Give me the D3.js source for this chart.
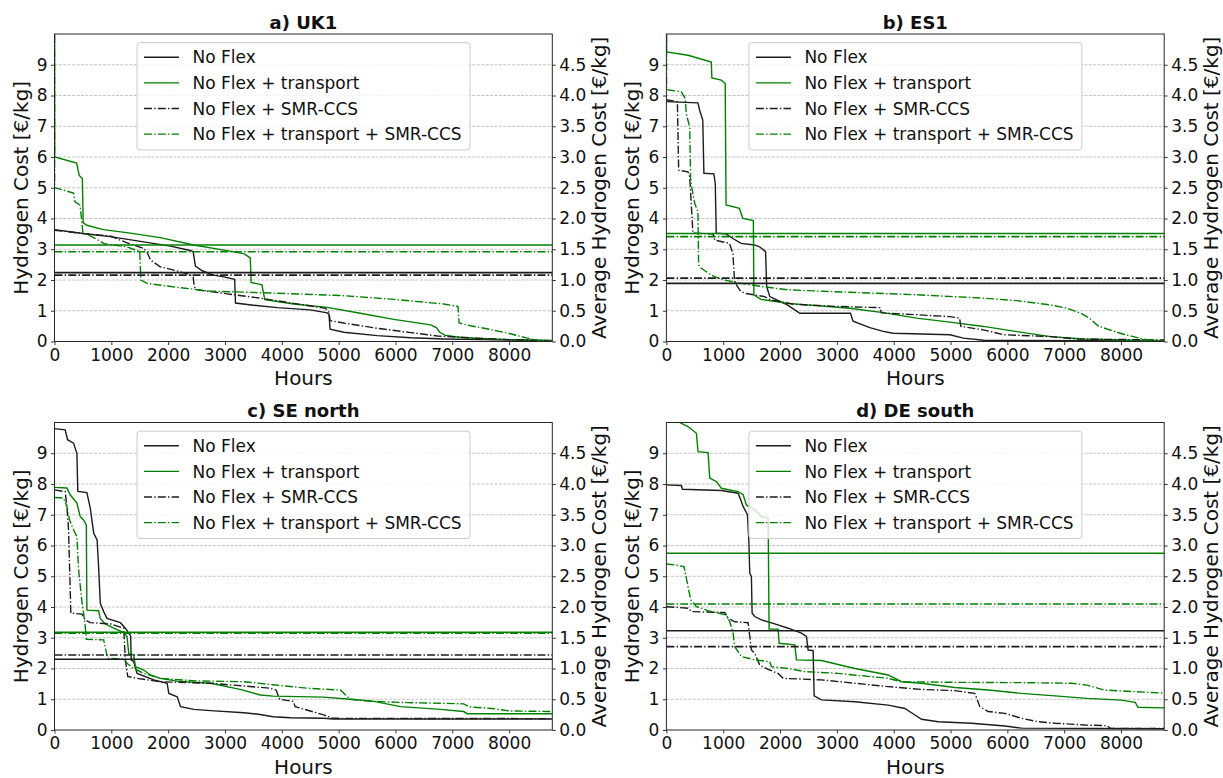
<!DOCTYPE html>
<html>
<head>
<meta charset="utf-8">
<script src="https://cdn.jsdelivr.net/npm/d3@7"></script>
<style>
  html, body { margin: 0; padding: 0; background: #fff; }
  svg { display: block; font-family: "DejaVu Sans", sans-serif; }
</style>
</head>
<body>
<svg id="chart" width="1223" height="778"></svg>
<script>
// Sorted hourly hydrogen cost (duration curves), [hour, €/kg] breakpoints.
const ukNoFlex = [[0,3.64],[500,3.51],[980,3.41],[1570,3.24],[2040,3.10],[2390,2.96],[2440,2.92],[2480,2.45],[2600,2.30],[2800,2.16],[2980,2.10],[3170,2.02],[3185,1.25],[3500,1.18],[3920,1.10],[4500,1.03],[4800,0.93],[4830,0.88],[4850,0.40],[5090,0.30],[5680,0.19],[6270,0.12],[6850,0.08],[7500,0.06],[8760,0.03]];
const ukTransport = [[0,14],[3,6.0],[390,5.8],[435,5.4],[490,5.3],[505,3.86],[570,3.78],[860,3.64],[1270,3.54],[1860,3.38],[2450,3.14],[2980,2.97],[3330,2.86],[3445,2.72],[3460,1.92],[3650,1.84],[3700,1.36],[4210,1.22],[4800,1.11],[5380,0.92],[5970,0.72],[6620,0.54],[6720,0.45],[6780,0.30],[6880,0.20],[7200,0.12],[8000,0.06],[8760,0.03]];
const ukSmr = [[0,3.62],[510,3.51],[980,3.43],[1330,3.17],[1570,3.03],[1630,2.90],[1690,2.65],[1860,2.43],[2150,2.30],[2390,2.17],[2440,2.10],[2460,1.78],[2510,1.68],[3040,1.55],[3620,1.41],[4210,1.24],[4770,1.08],[4830,0.95],[4850,0.68],[5090,0.60],[5680,0.43],[6270,0.29],[6740,0.18],[7500,0.10],[8000,0.06],[8760,0.03]];
const ukTransportSmr = [[0,14],[3,5.0],[335,4.83],[360,4.55],[450,4.43],[500,3.54],[690,3.38],[890,3.17],[1270,3.08],[1500,2.93],[1520,2.0],[1630,1.89],[2160,1.76],[2740,1.64],[3920,1.57],[5090,1.49],[5970,1.37],[6850,1.22],[7100,1.14],[7120,0.6],[7300,0.52],[7700,0.38],[8000,0.26],[8300,0.12],[8500,0.04],[8760,0.02]];
// Yearly averages (right axis): No Flex, + transport, + SMR-CCS, + transport + SMR-CCS
const ukAvg = [1.12, 1.57, 1.08, 1.46];

const esNoFlex = [[0,7.8],[555,7.76],[585,7.52],[640,7.2],[660,5.47],[835,5.45],[860,5.14],[877,3.52],[1050,3.5],[1170,3.35],[1315,3.19],[1550,3.14],[1640,3.08],[1745,2.92],[1765,1.78],[1820,1.46],[2120,1.2],[2350,0.92],[3240,0.92],[3285,0.66],[3580,0.45],[3815,0.33],[3990,0.27],[4990,0.22],[5225,0.11],[5580,0.04],[8760,0.02]];
const esTransport = [[0,14],[3,9.42],[380,9.31],[790,9.09],[800,8.57],[965,8.5],[1035,8.39],[1050,4.44],[1285,4.33],[1345,4.0],[1530,3.93],[1540,1.52],[1665,1.37],[2135,1.24],[3227,1.08],[3815,0.94],[4400,0.76],[4990,0.63],[5580,0.49],[6170,0.32],[6760,0.16],[7345,0.08],[8000,0.05],[8760,0.03]];
const esSmr = [[0,7.86],[193,7.8],[216,5.57],[380,5.52],[410,5.36],[467,3.52],[820,3.5],[850,3.3],[1110,3.19],[1170,2.87],[1200,1.95],[1287,1.68],[1374,1.57],[1725,1.46],[1842,1.35],[2250,1.21],[3010,1.14],[3760,1.1],[3785,0.93],[4400,0.87],[4990,0.81],[5160,0.76],[5180,0.49],[5580,0.38],[5930,0.22],[6760,0.16],[7230,0.08],[8760,0.05]];
const esTransportSmr = [[0,14],[3,8.19],[263,8.12],[333,7.9],[350,7.4],[410,6.98],[427,5.2],[497,4.5],[555,4.22],[567,2.49],[614,2.38],[790,2.16],[965,2.02],[1315,1.89],[1667,1.79],[2135,1.68],[3227,1.6],[4400,1.52],[5580,1.41],[6170,1.33],[6760,1.19],[7050,1.08],[7290,0.92],[7450,0.75],[7600,0.5],[7800,0.38],[8000,0.26],[8300,0.12],[8500,0.04],[8760,0.02]];
const esAvg = [0.945, 1.755, 1.03, 1.705];

const seNoFlex = [[0,9.8],[188,9.76],[230,9.44],[335,9.33],[394,9.0],[410,7.76],[570,7.72],[630,7.21],[690,6.4],[750,6.18],[776,5.31],[806,4.12],[865,3.85],[924,3.63],[1160,3.49],[1247,3.31],[1340,3.06],[1350,2.28],[1394,2.22],[1453,1.84],[1747,1.63],[1982,1.52],[2012,1.19],[2159,1.08],[2218,0.76],[2453,0.67],[2747,0.63],[3335,0.56],[3560,0.52],[3850,0.43],[4150,0.40],[4735,0.38],[4910,0.36],[8760,0.36]];
const seTransport = [[0,7.89],[218,7.87],[276,7.65],[394,7.38],[453,6.94],[512,6.83],[560,6.67],[570,3.9],[776,3.88],[806,3.63],[894,3.45],[1041,3.31],[1218,3.17],[1276,3.04],[1306,2.49],[1394,2.44],[1424,2.06],[1570,1.95],[1688,1.79],[1865,1.68],[2159,1.59],[2747,1.52],[3265,1.32],[3620,1.14],[3850,1.1],[4735,1.07],[5205,1.0],[5620,0.93],[6090,0.76],[6795,0.67],[7200,0.6],[7265,0.53],[8760,0.53]];
const seSmr = [[0,7.81],[188,7.75],[218,7.27],[247,6.51],[288,3.8],[482,3.77],[541,3.58],[630,3.49],[982,3.45],[1218,3.31],[1247,2.28],[1288,1.74],[1453,1.68],[1865,1.57],[2747,1.52],[3335,1.43],[3795,1.36],[3900,1.3],[3960,1.0],[4205,0.93],[4235,0.76],[4440,0.65],[4735,0.49],[4910,0.38],[8760,0.37]];
const seTransportSmr = [[0,7.56],[159,7.54],[218,7.27],[265,6.83],[335,6.51],[394,6.29],[424,5.21],[482,4.18],[512,3.8],[541,3.36],[560,2.95],[865,2.93],[935,2.33],[1218,2.3],[1276,2.17],[1394,2.0],[1570,1.84],[1865,1.68],[2453,1.6],[3335,1.57],[3850,1.47],[4440,1.36],[5030,1.3],[5205,1.0],[5620,0.93],[6205,0.89],[6795,0.87],[7200,0.85],[7300,0.75],[7700,0.7],[8000,0.62],[8760,0.6]];
const seAvg = [1.15, 1.59, 1.22, 1.575];

const deNoFlex = [[0,7.97],[264,7.95],[282,7.83],[968,7.79],[1262,7.7],[1309,7.48],[1350,7.27],[1426,7.0],[1450,6.18],[1467,5.1],[1496,4.99],[1508,3.8],[1555,3.69],[1673,3.58],[1907,3.45],[2142,3.31],[2377,3.15],[2465,3.04],[2494,2.6],[2582,2.58],[2600,1.11],[2729,0.98],[3316,0.92],[3903,0.81],[4196,0.7],[4313,0.56],[4490,0.35],[4783,0.27],[5370,0.22],[5957,0.13],[6250,0.06],[8760,0.04]];
const deTransport = [[0,10.3],[230,10.0],[381,9.87],[528,9.65],[557,9.05],[733,9.02],[763,8.19],[880,8.08],[968,7.86],[1262,7.75],[1350,7.65],[1408,7.32],[1555,7.16],[1673,6.94],[1790,6.89],[1807,3.28],[1966,3.28],[1984,2.82],[2260,2.77],[2289,2.28],[2729,2.26],[3316,2.0],[3903,1.79],[4137,1.57],[4490,1.52],[5076,1.38],[5663,1.3],[6250,1.19],[6837,1.11],[7400,1.03],[8000,0.97],[8250,0.9],[8300,0.74],[8760,0.72]];
const deSmr = [[0,4.01],[381,3.96],[440,3.85],[1027,3.82],[1086,3.63],[1203,3.52],[1438,3.49],[1496,2.6],[1555,2.49],[1643,2.11],[1790,1.97],[1966,1.84],[2054,1.68],[2729,1.63],[3316,1.52],[3903,1.41],[4490,1.32],[5076,1.28],[5428,1.19],[5516,0.76],[5663,0.6],[5957,0.54],[6250,0.38],[6543,0.27],[6837,0.22],[7400,0.16],[7750,0.14],[7820,0.05],[8760,0.05]];
const deTransportSmr = [[0,5.4],[147,5.37],[311,5.31],[381,4.66],[428,4.23],[528,4.01],[733,3.88],[1056,3.74],[1115,3.52],[1174,3.15],[1203,2.71],[1320,2.39],[1555,2.28],[1819,2.22],[1848,2.06],[2142,2.0],[2435,1.9],[3022,1.84],[3903,1.68],[4137,1.57],[5076,1.55],[6250,1.54],[7130,1.52],[7400,1.46],[7700,1.3],[8200,1.25],[8760,1.2]];
const deAvg = [1.615, 2.875, 1.355, 2.05];

const seriesNames = ["No Flex", "No Flex + transport", "No Flex + SMR-CCS", "No Flex + transport + SMR-CCS"];
const panelTitles = ["a) UK1", "b) ES1", "c) SE north", "d) DE south"];
const xTicks = [0, 1000, 2000, 3000, 4000, 5000, 6000, 7000, 8000];
const yTicksLeft = [0, 1, 2, 3, 4, 5, 6, 7, 8, 9];
const yTicksRight = [0, 0.5, 1.0, 1.5, 2.0, 2.5, 3.0, 3.5, 4.0, 4.5];

const panelSeries = [
  [ukNoFlex, ukTransport, ukSmr, ukTransportSmr],
  [esNoFlex, esTransport, esSmr, esTransportSmr],
  [seNoFlex, seTransport, seSmr, seTransportSmr],
  [deNoFlex, deTransport, deSmr, deTransportSmr]
];
const panelAvg = [ukAvg, esAvg, seAvg, deAvg];

// ---- styling / layout ----
const BLACK = "#1c1c1c", GREEN = "#008000";
const lineColors = [BLACK, GREEN, BLACK, GREEN];
const dashDot = "8,2.2,1.4,2.2";
const lineDash = [null, null, dashDot, dashDot];
const plotW = 497.8, plotH = 307.5;
const origins = [[54.5, 34], [666.4, 34], [54.5, 422.5], [666.4, 422.5]];

const svg = d3.select("#chart");
const x = d3.scaleLinear().domain([0, 8760]).range([0, plotW]);
const yL = d3.scaleLinear().domain([0, 10]).range([plotH, 0]);
const yR = d3.scaleLinear().domain([0, 5]).range([plotH, 0]);
const line = d3.line().x(d => x(d[0])).y(d => yL(d[1]));

panelSeries.forEach((series, i) => {
  const [ox, oy] = origins[i];
  const g = svg.append("g").attr("transform", `translate(${ox},${oy})`);

  g.append("clipPath").attr("id", "clip" + i)
    .append("rect").attr("width", plotW).attr("height", plotH);

  // horizontal grid
  g.append("g").selectAll("line").data(yTicksLeft.slice(1)).join("line")
    .attr("x1", 0).attr("x2", plotW)
    .attr("y1", d => yL(d)).attr("y2", d => yL(d))
    .attr("stroke", "#b3b3b3").attr("stroke-width", 0.8)
    .attr("stroke-dasharray", "3,1.4");

  const plot = g.append("g").attr("clip-path", `url(#clip${i})`);

  // duration curves
  series.forEach((s, k) => {
    plot.append("path").datum(s)
      .attr("d", line)
      .attr("fill", "none")
      .attr("stroke", lineColors[k])
      .attr("stroke-width", 1.4)
      .attr("stroke-dasharray", lineDash[k]);
  });

  // yearly averages on the right axis
  panelAvg[i].forEach((v, k) => {
    plot.append("line")
      .attr("x1", 0).attr("x2", plotW)
      .attr("y1", yR(v)).attr("y2", yR(v))
      .attr("stroke", lineColors[k])
      .attr("stroke-width", 1.6)
      .attr("stroke-dasharray", lineDash[k]);
  });

  // axes
  const ax = g.append("g").attr("transform", `translate(0,${plotH})`)
    .call(d3.axisBottom(x).tickValues(xTicks).tickSize(3.5).tickPadding(3.5).tickFormat(d3.format("d")));
  const ayl = g.append("g")
    .call(d3.axisLeft(yL).tickValues(yTicksLeft).tickSize(3.5).tickPadding(3.5).tickFormat(d3.format("d")));
  const ayr = g.append("g").attr("transform", `translate(${plotW},0)`)
    .call(d3.axisRight(yR).tickValues(yTicksRight).tickSize(3.5).tickPadding(3.5).tickFormat(d3.format(".1f")));
  [ax, ayl, ayr].forEach(a => {
    a.select(".domain").remove();
    a.selectAll(".tick line").attr("stroke", "#222").attr("stroke-width", 0.9);
    a.selectAll(".tick text").attr("fill", "#111").style("font-size", "17px")
      .style("font-family", "'DejaVu Sans', sans-serif");
  });

  // frame
  g.append("rect").attr("width", plotW).attr("height", plotH)
    .attr("fill", "none").attr("stroke", "#262626").attr("stroke-width", 1);

  // legend
  const lg = g.append("g").attr("transform", "translate(82.5,8.7)");
  lg.append("rect").attr("width", 333).attr("height", 107.3).attr("rx", 3)
    .attr("fill", "#fff").attr("fill-opacity", 0.8)
    .attr("stroke", "#cccccc").attr("stroke-width", 1);
  seriesNames.forEach((name, k) => {
    const yy = 14.6 + k * 25.6;
    lg.append("line").attr("x1", 7).attr("x2", 42).attr("y1", yy).attr("y2", yy)
      .attr("stroke", lineColors[k]).attr("stroke-width", 1.4)
      .attr("stroke-dasharray", lineDash[k]);
    lg.append("text").attr("x", 55.5).attr("y", yy).attr("dy", "0.36em")
      .attr("fill", "#111").style("font-size", "17px").text(name);
  });

  // titles and labels
  g.append("text").attr("x", plotW / 2).attr("y", -5.5).attr("text-anchor", "middle")
    .style("font-size", "18px").style("font-weight", "bold").attr("fill", "#111")
    .text(panelTitles[i]);
  g.append("text").attr("x", plotW / 2).attr("y", plotH + 43.7).attr("text-anchor", "middle")
    .style("font-size", "20px").attr("fill", "#111").text("Hours");
  g.append("text").attr("transform", `translate(-27,${plotH / 2}) rotate(-90)`)
    .attr("text-anchor", "middle").style("font-size", "20px").attr("fill", "#111")
    .text("Hydrogen Cost [€/kg]");
  g.append("text").attr("transform", `translate(${plotW + 54},${plotH / 2}) rotate(-90)`)
    .attr("text-anchor", "middle").style("font-size", "20px").attr("fill", "#111")
    .text("Average Hydrogen Cost [€/kg]");
});
</script>
</body>
</html>
